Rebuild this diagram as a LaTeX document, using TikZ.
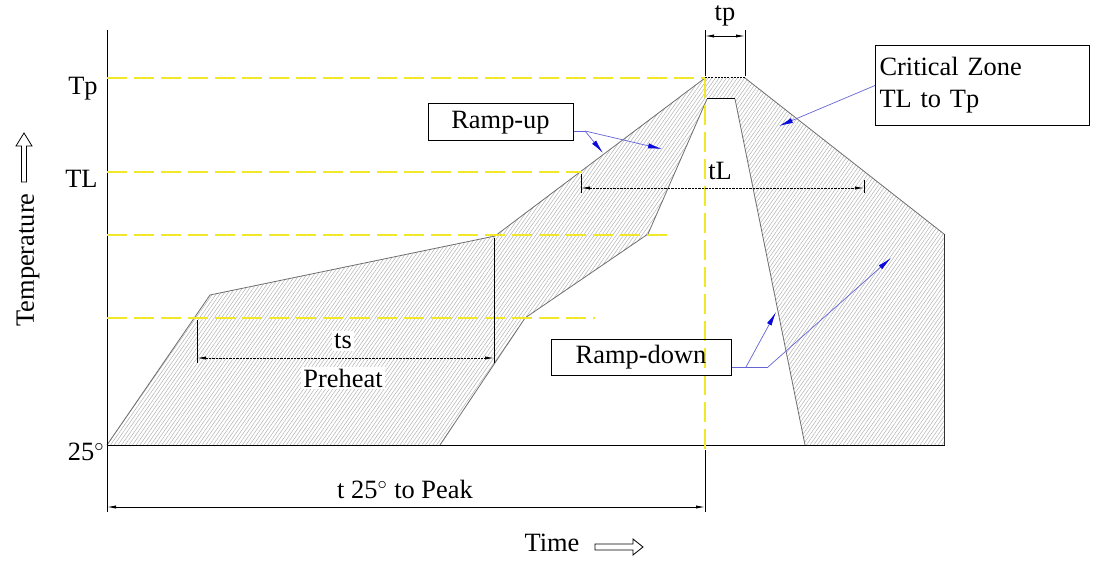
\documentclass[tikz,border=0pt]{standalone}
\usepackage{fontspec}
\setmainfont{Liberation Serif}
\usetikzlibrary{arrows.meta,patterns.meta,calc}
\definecolor{ylw}{RGB}{240,232,40}
\definecolor{leadc}{RGB}{100,100,215}
\definecolor{tipc}{RGB}{10,10,220}
\definecolor{edgec}{RGB}{110,110,110}
\begin{document}
\begin{tikzpicture}[x=0.5pt,y=-0.5pt,
 font=\fontsize{13.2}{16}\selectfont,
 lbl/.style={inner sep=0pt},
 guide/.style={ylw, line width=0.8pt, dash pattern=on 10pt off 3.5pt},
 dimline/.style={line width=0.4pt, {Latex[length=4.5pt,width=1.6pt]}-{Latex[length=4.5pt,width=1.6pt]}},
 dotdim/.style={dimline, dash pattern=on 1.2pt off 0.5pt},
 extline/.style={line width=0.4pt},
 labbox/.style={draw, line width=0.5pt, inner sep=0pt},
 lead/.style={leadc, line width=0.35pt},
 leadarrow/.style={lead, -{Latex[length=7pt,width=2.6pt,color=tipc]}},
 hatch/.style={pattern={Lines[angle=55,distance=1.5pt,line width=0.25pt]}, pattern color=gray!60},
 edge/.style={edgec, line width=0.4pt},
 hollow/.style={draw, line width=0.4pt, fill=white},
]
\useasboundingbox (0,0) rectangle (1097,561);

% profile band
\coordinate (A) at (107,445);
\coordinate (B) at (210,295);
\coordinate (C) at (495,236);
\coordinate (D) at (705,78);
\coordinate (E) at (745,78);
\coordinate (F) at (944,234);
\coordinate (G) at (944,445);
\coordinate (H) at (805,445);
\coordinate (I) at (735,99);
\coordinate (J) at (707,99);
\coordinate (K) at (648,234);
\coordinate (L) at (525,318);
\coordinate (M) at (440,445);
\fill[hatch] (A)--(B)--(C)--(D)--(E)--(F)--(G)--(H)--(I)--(J)--(K)--(L)--(M)--cycle;
\draw[edge] (A)--(B)--(C)--(D);
\draw[edge] (E)--(F);
\draw[line width=0.5pt, black!80] (F)--(G);
\draw[edge] (H)--(I);
\draw[line width=0.5pt] (I)--(J);
\draw[edge] (J)--(K)--(L)--(M);
\draw[line width=0.5pt, dash pattern=on 1pt off 0.6pt] (D)--(E);

% axes
\draw[line width=0.5pt] (107,30) -- (107,512);
\draw[line width=0.5pt] (107,445) -- (945,445);

% yellow guides
\draw[guide] (107,78) -- (705,78);
\draw[guide] (107,172) -- (582,172);
\draw[guide] (107,235) -- (670,235);
\draw[guide] (107,318) -- (595,318);
\draw[guide] (705,78) -- (705,450);

% axis labels
\node[lbl, anchor=base east] (Tp) at (98,95) {Tp};
\node[lbl, anchor=base east] (TL) at (98,188) {TL};
\node[lbl, anchor=base east] (T25) at (105,460) {25$^\circ$};
\node[rotate=90] (temp) at (28,260) {Temperature};
\draw[hollow] (21.5,182) -- (21.5,146) -- (16,146) -- (24,133) -- (32,146) -- (26.5,146) -- (26.5,182) -- cycle;
\node (time) at (552,543) {Time};
\draw[hollow] (595,544) -- (633,544) -- (633,539) -- (643,547) -- (633,555) -- (633,550) -- (595,550) -- cycle;

% tp dimension
\draw[extline] (705,30) -- (705,76);
\draw[extline] (745,30) -- (745,76);
\coordinate (tpa) at (705,36);
\coordinate (tpb) at (745,36);
\draw[dimline] (tpa) -- (tpb);
\node (tp) at (725,16) {tp};

% ts dimension
\draw[extline] (197,320) -- (197,363);
\draw[extline] (494,238) -- (494,363);
\coordinate (tsa) at (197,358);
\coordinate (tsb) at (494,358);
\draw[dotdim] (tsa) -- (tsb);
\node[fill=white, inner sep=1pt] (ts) at (343,341) {ts};
\node[fill=white, inner sep=1pt] (pre) at (343,378) {Preheat};

% tL dimension
\draw[extline] (581,174) -- (581,193);
\draw[extline] (864,180) -- (864,193);
\coordinate (tLa) at (581,188);
\coordinate (tLb) at (864,188);
\draw[dotdim] (tLa) -- (tLb);
\node (tL) at (720,171) {tL};

% t25 to peak
\draw[extline] (705,450) -- (705,512);
\coordinate (pka) at (107,507);
\coordinate (pkb) at (705,507);
\draw[dimline] (pka) -- (pkb);
\node (pk) at (405,489) {t 25$^\circ$ to Peak};

% boxes
\node[labbox, minimum width=72.5pt, minimum height=18.5pt] (ru) at (500.5,122.5) {Ramp-up};
\node[labbox, anchor=north west, text width=103pt, minimum height=40pt, inner sep=2pt, align=left] (cz) at (875,45) {Critical Zone\\TL to Tp};
\node[labbox, minimum width=90pt, minimum height=18pt] (rd) at (641,357) {Ramp-down};

% leaders
\coordinate (ruk) at (585,131);
\coordinate (ru1) at (603,153);
\coordinate (ru2) at (662,149);
\draw[lead] ([yshift=-4.25pt]ru.east) -- (ruk);
\draw[leadarrow] (ruk) -- (ru1);
\draw[leadarrow] (ruk) -- (ru2);

\coordinate (cz1) at (779,126);
\draw[leadarrow] (cz.west) -- (cz1);

\coordinate (rdb) at (746,367);
\coordinate (rdk) at (768,367);
\coordinate (rd1) at (776,312);
\coordinate (rd2) at (891,258);
\draw[lead] ([yshift=-5pt]rd.east) -- (rdk);
\draw[leadarrow] (rdb) -- (rd1);
\draw[leadarrow] (rdk) -- (rd2);
\end{tikzpicture}
\end{document}
